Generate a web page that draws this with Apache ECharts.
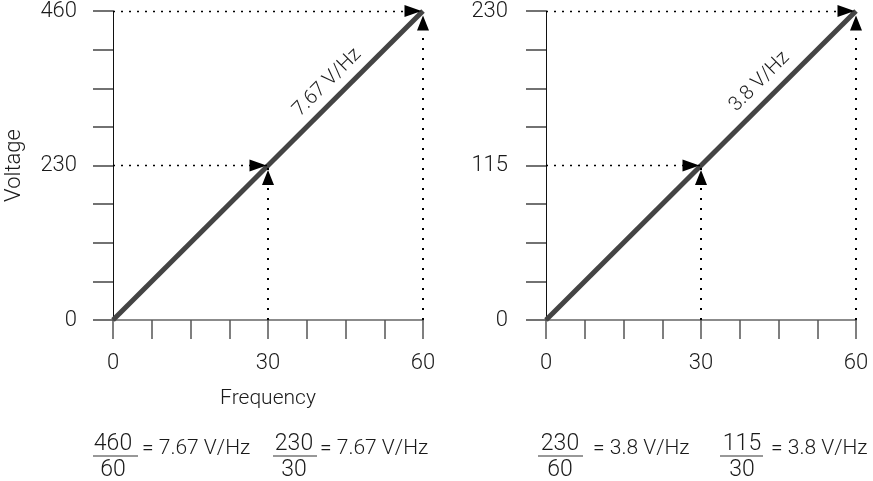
<!DOCTYPE html>
<html><head><meta charset="utf-8">
<script src="https://cdn.jsdelivr.net/npm/echarts@6/dist/echarts.min.js"></script>
<style>html,body{margin:0;padding:0;background:#fff}#c{width:873px;height:481px}</style>
</head><body><div id="c"></div>
<script>
// ---- data ----
const freqTicks = [0, 30, 60];
const leftVoltTicks = [0, 230, 460];
const rightVoltTicks = [0, 115, 230];
const leftLine = [[0, 0], [60, 460]];
const rightLine = [[0, 0], [60, 230]];
const leftGuides = [[30, 230], [60, 460]];
const rightGuides = [[30, 115], [60, 230]];
const leftRatioLabel = '7.67 V/Hz';
const rightRatioLabel = '3.8 V/Hz';
const leftEquations = [
  { num: '460', den: '60', res: '= 7.67 V/Hz' },
  { num: '230', den: '30', res: '= 7.67 V/Hz' }
];
const rightEquations = [
  { num: '230', den: '60', res: '= 3.8 V/Hz' },
  { num: '115', den: '30', res: '= 3.8 V/Hz' }
];

// ---- styles ----
const FONT = 'Roboto';
const W = 300;
const TXT = '#1a1a1a';

function xAxis(gi, ticks, name) {
  return {
    type: 'value', gridIndex: gi,
    min: ticks[0], max: ticks[ticks.length - 1],
    interval: (ticks[1] - ticks[0]) / 4,
    name: name || '', nameLocation: 'middle', nameGap: 68,
    nameTextStyle: { fontFamily: FONT, fontWeight: W, fontSize: 21, color: TXT },
    axisLine: { show: true, lineStyle: { color: '#666', width: 1.5 } },
    axisTick: { show: true, length: 19, lineStyle: { color: '#555', width: 1.5 } },
    axisLabel: {
      margin: 32, fontFamily: FONT, fontWeight: W, fontSize: 22, color: TXT,
      formatter: v => ticks.indexOf(v) >= 0 ? String(v) : ''
    },
    splitLine: { show: false }
  };
}
function yAxis(gi, ticks, name, margin) {
  return {
    type: 'value', gridIndex: gi,
    min: ticks[0], max: ticks[ticks.length - 1],
    interval: (ticks[1] - ticks[0]) / 4,
    name: name || '', nameLocation: 'middle', nameGap: 88,
    nameTextStyle: { fontFamily: FONT, fontWeight: W, fontSize: 22, color: TXT },
    axisLine: { show: true, lineStyle: { color: '#111', width: 1 } },
    axisTick: { show: true, length: 20, lineStyle: { color: '#444', width: 1.5 } },
    axisLabel: {
      margin: margin, fontFamily: FONT, fontWeight: W, fontSize: 22, color: TXT,
      formatter: v => ticks.indexOf(v) >= 0 ? String(v) : ''
    },
    splitLine: { show: false }
  };
}

function mainSeries(gi, data, label, offset) {
  const t = 0.73;
  const end = data[data.length - 1];
  return {
    type: 'line', xAxisIndex: gi, yAxisIndex: gi, data: data,
    symbol: 'none', silent: true, z: 2,
    lineStyle: { color: '#444', width: 5 },
    markPoint: {
      silent: true,
      symbol: 'circle', symbolSize: 1,
      itemStyle: { color: 'rgba(0,0,0,0)' },
      data: [{ coord: [end[0] * t, end[1] * t], value: label }],
      label: {
        show: true, position: 'inside', rotate: 45, offset: [0, offset],
        formatter: label, fontFamily: FONT, fontWeight: W, fontSize: 20, color: TXT
      }
    }
  };
}
function guideSeries(gi, guides, horizontal) {
  return {
    type: 'line', xAxisIndex: gi, yAxisIndex: gi, data: [],
    silent: true, z: 5,
    markLine: {
      silent: true, animation: false, z: 5,
      symbol: ['none', 'triangle'],
      label: { show: false },
      lineStyle: horizontal
        ? { color: '#000', width: 1.3, type: [2, 6] }
        : { color: '#000', width: 2, type: [2, 8] },
      itemStyle: { color: '#000' },
      emphasis: { disabled: true },
      data: guides.map(g => horizontal
        ? [{ coord: [0, g[1]], symbol: 'none' },
           { coord: [g[0], g[1]], symbol: 'triangle', symbolSize: [12, 17], symbolOffset: [0, 10] }]
        : [{ coord: [g[0], 0], symbol: 'none' },
           { coord: [g[0], g[1]], symbol: 'triangle', symbolSize: [12, 15], symbolOffset: [0, 12] }])
    }
  };
}

// equation layout
const eqPos = [
  { cx: 113, bar: [93, 138], rx: 142 },
  { cx: 294, bar: [273, 317], rx: 320 },
  { cx: 560, bar: [538, 583], rx: 593 },
  { cx: 742, bar: [720, 763], rx: 771 }
];
const graphics = [];
leftEquations.concat(rightEquations).forEach((e, i) => {
  const p = eqPos[i];
  graphics.push({ type: 'text', x: p.cx, y: 444, style: { text: e.num, fontFamily: FONT, fontWeight: W, fontSize: 23, fill: TXT, align: 'center', verticalAlign: 'middle' } });
  graphics.push({ type: 'line', shape: { x1: p.bar[0], y1: 456, x2: p.bar[1], y2: 456 }, style: { stroke: '#333', lineWidth: 1.2 } });
  graphics.push({ type: 'text', x: p.cx, y: 470, style: { text: e.den, fontFamily: FONT, fontWeight: W, fontSize: 23, fill: TXT, align: 'center', verticalAlign: 'middle' } });
  graphics.push({ type: 'text', x: p.rx, y: 449, style: { text: e.res, fontFamily: FONT, fontWeight: W, fontSize: 21, fill: TXT, align: 'left', verticalAlign: 'middle' } });
});

const chart = echarts.init(document.getElementById('c'), null, { renderer: 'canvas' });
chart.setOption({
  animation: false,
  backgroundColor: '#fff',
  grid: [
    { left: 113, right: 450, top: 10, bottom: 161 },
    { left: 546, right: 17, top: 10, bottom: 161 }
  ],
  xAxis: [xAxis(0, freqTicks, 'Frequency'), xAxis(1, freqTicks)],
  yAxis: [yAxis(0, leftVoltTicks, 'Voltage', 36), yAxis(1, rightVoltTicks, '', 38)],
  series: [
    mainSeries(0, leftLine, leftRatioLabel, -17),
    guideSeries(0, leftGuides, true),
    guideSeries(0, leftGuides, false),
    mainSeries(1, rightLine, rightRatioLabel, -18),
    guideSeries(1, rightGuides, true),
    guideSeries(1, rightGuides, false)
  ],
  graphic: graphics
});
</script></body></html>
